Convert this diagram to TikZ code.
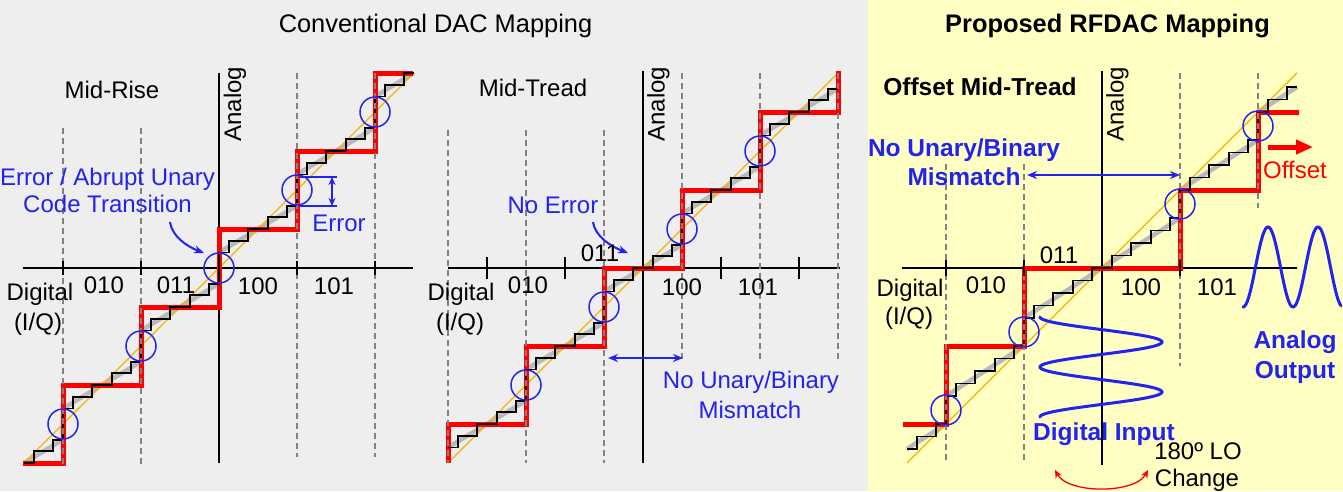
\documentclass[tikz,border=0pt]{standalone}
\usepackage{fontspec}
\setmainfont{Liberation Sans}
\usetikzlibrary{arrows.meta}
\definecolor{bggray}{RGB}{238,238,238}
\definecolor{bgyel}{RGB}{255,255,196}
\definecolor{myblue}{RGB}{35,35,240}
\definecolor{myred}{RGB}{255,0,0}
\definecolor{myorange}{RGB}{245,180,0}
\definecolor{mygray}{RGB}{185,185,185}
\definecolor{dashgray}{RGB}{130,130,130}
\begin{document}
\begin{tikzpicture}[x=1pt,y=-1pt,
  lab/.style={inner sep=0pt,text height=17.2pt,text depth=0pt,font=\fontsize{24}{28}\selectfont},
  blab/.style={lab,text=myblue},
  bblab/.style={lab,text=myblue,font=\fontsize{24.5}{28}\selectfont\bfseries},
  ttl/.style={lab,font=\fontsize{25.4}{30}\selectfont},
  redstep/.style={myred,line width=5pt},
  fine/.style={black,line width=1.8pt},
  shade/.style={mygray,line width=4.5pt},
  diag/.style={myorange,line width=1.2pt},
  vgrid/.style={dashgray,line width=1.5pt,dash pattern=on 6pt off 4pt},
  axisline/.style={black,line width=1.6pt},
  bcirc/.style={circle,draw=myblue,line width=1.5pt,minimum size=30pt,inner sep=0pt},
  barrow/.style={myblue,line width=2pt,-{Stealth[length=10pt,width=8pt]}},
  dbarrow/.style={myblue,line width=2pt,{Stealth[length=10pt,width=8pt]}-{Stealth[length=10pt,width=8pt]}}]
\useasboundingbox (0,0) rectangle (1343,491);
\fill[bggray] (0,0) rectangle (868,491);
\fill[bgyel] (868,0) rectangle (1343,491);

% titles
\node[ttl] (t1) at (435.5,24) {Conventional DAC Mapping};
\node[ttl,font=\fontsize{25.4}{30}\selectfont\bfseries] (t2) at (1107.5,24) {Proposed RFDAC Mapping};

% ================= Panel 1: Mid-Rise =================
\begin{scope}[shift={(219pt,-268pt)},x=78pt,y=78pt]
  \draw[shade] (-2.5,-2.5)--(-2,-2.2)--(-2,-1.8)--(-1,-1.2)--(-1,-0.8)--(0,-0.2)--(0,0.2)--(1,0.8)--(1,1.2)--(2,1.8)--(2,2.2)--(2.5,2.5);
  \draw[diag] (-2.5,-2.5)--(2.5,2.5);
  \draw[axisline] (0,-2.5)--(0,2.5);
  \draw[axisline] (-2.51,0)--(2.49,0);
  \draw[redstep] (-2.51,-2.5)--(-2,-2.5)--(-2,-1.5)--(-1,-1.5)--(-1,-0.5)--(0,-0.5)--(0,0.5)--(1,0.5)--(1,1.5)--(2,1.5)--(2,2.5)--(2.49,2.5);
  \draw[fine] (-2.5,-2.5) -- (-2.375,-2.5) -- (-2.375,-2.35) -- (-2.125,-2.35) -- (-2.125,-2.2) -- (-2,-2.2)
    \foreach \k in {-2,-1,0,1}{ -- (\k,\k+0.2) -- (\k+0.125,\k+0.2) -- (\k+0.125,\k+0.35) -- (\k+0.375,\k+0.35) -- (\k+0.375,\k+0.5) -- (\k+0.625,\k+0.5) -- (\k+0.625,\k+0.65) -- (\k+0.875,\k+0.65) -- (\k+0.875,\k+0.8) -- (\k+1,\k+0.8)}
    -- (2,2.2) -- (2.125,2.2) -- (2.125,2.35) -- (2.375,2.35) -- (2.375,2.5) -- (2.5,2.5);
  \foreach \x in {-2,-1}{\draw[vgrid] (\x,1.8)--(\x,-2.55);}
  \foreach \x in {1,2}{\draw[vgrid] (\x,2.5)--(\x,-2.42);}
  \foreach \x in {-2,-1,1,2}{\draw[axisline] (\x,-0.09)--(\x,0.09);}
  \node[bcirc] (p1c1) at (-2,-2) {};
  \node[bcirc] (p1c2) at (-1,-1) {};
  \node[bcirc] (p1c3) at (0,0) {};
  \node[bcirc] (p1c4) at (1,1) {};
  \node[bcirc] (p1c5) at (2,2) {};
\end{scope}
\node[lab] (mr) at (112,90) {Mid-Rise};
\node[lab,rotate=90] (an1) at (232.5,104) {Analog};
\node[blab] (e1) at (107.5,177) {Error / Abrupt Unary};
\node[blab] (e2) at (107.5,204) {Code Transition};
\coordinate (a1s) at (170,222);
\coordinate (a1e) at (204,253);
\draw[barrow] (a1s) .. controls (172,236) and (186,246) .. (a1e);
\coordinate (er1a) at (300,177); \coordinate (er1b) at (337,177);
\coordinate (er2a) at (300,206); \coordinate (er2b) at (337,206);
\coordinate (era) at (332,177); \coordinate (erb) at (332,206);
\draw[myblue,line width=2pt] (er1a)--(er1b) (er2a)--(er2b);
\draw[myblue,line width=2pt,{Stealth[length=8pt,width=7pt]}-{Stealth[length=8pt,width=7pt]}] (era)--(erb);
\node[blab] (e3) at (339,223) {Error};
\node[lab] (l1a) at (104,285) {010};
\node[lab] (l1b) at (176,285) {011};
\node[lab] (l1c) at (258,286) {100};
\node[lab] (l1d) at (334,286) {101};
\node[lab] (d1) at (40,292) {Digital};
\node[lab] (q1) at (38,322) {(I/Q)};

% ================= Panel 2: Mid-Tread =================
\begin{scope}[shift={(643pt,-268pt)},x=78pt,y=78pt]
  \draw[shade] (-2.5,-2.3)--(-1.5,-1.7)--(-1.5,-1.3)--(-0.5,-0.7)--(-0.5,-0.3)--(0.5,0.3)--(0.5,0.7)--(1.5,1.3)--(1.5,1.7)--(2.5,2.3);
  \draw[diag] (-2.5,-2.5)--(2.5,2.5);
  \draw[axisline] (0,-2.5)--(0,2.52);
  \draw[axisline] (-2.5,0)--(2.53,0);
  \draw[redstep] (-2.5,-2.5)--(-2.5,-2)--(-1.5,-2)--(-1.5,-1)--(-0.5,-1)--(-0.5,0)--(0.5,0)--(0.5,1)--(1.5,1)--(1.5,2)--(2.5,2)--(2.5,2.52);
  \draw[fine] (-2.5,-2.3) \foreach \q in {-2,...,2}{ -- (\q-0.5,\q-0.3) -- (\q-0.375,\q-0.3) -- (\q-0.375,\q-0.15) -- (\q-0.125,\q-0.15) -- (\q-0.125,\q) -- (\q+0.125,\q) -- (\q+0.125,\q+0.15) -- (\q+0.375,\q+0.15) -- (\q+0.375,\q+0.3) -- (\q+0.5,\q+0.3)};
  \foreach \x in {-2.5,-1.5,-0.5}{\draw[vgrid] (\x,1.77)--(\x,-2.5);}
  \foreach \x in {0.5,1.5,2.5}{\draw[vgrid] (\x,2.5)--(\x,-1.2);}
  \foreach \x in {-2,-1,1,2}{\draw[axisline] (\x,-0.14)--(\x,0.14);}
  \node[bcirc] (p2c1) at (-1.5,-1.5) {};
  \node[bcirc] (p2c2) at (-0.5,-0.5) {};
  \node[bcirc] (p2c3) at (0.5,0.5) {};
  \node[bcirc] (p2c4) at (1.5,1.5) {};
\end{scope}
\node[lab] (mt) at (533,88) {Mid-Tread};
\node[lab,rotate=90] (an2) at (656,104) {Analog};
\node[blab] (ne) at (553,205) {No Error};
\coordinate (a2s) at (593,222);
\coordinate (a2e) at (628,253);
\draw[barrow] (a2s) .. controls (595,236) and (610,246) .. (a2e);
\coordinate (m2a) at (608,358); \coordinate (m2b) at (683,358);
\draw[dbarrow] (m2a)--(m2b);
\node[blab] (nu2) at (751,380) {No Unary/Binary};
\node[blab] (mm2) at (750,410) {Mismatch};
\node[lab] (l2b) at (600,253) {011};
\node[lab] (l2a) at (528,285) {010};
\node[lab] (l2c) at (682,287) {100};
\node[lab] (l2d) at (758,287) {101};
\node[lab] (d2) at (461,292) {Digital};
\node[lab] (q2) at (460,322) {(I/Q)};

% ================= Panel 3: Offset Mid-Tread =================
\begin{scope}[shift={(1102pt,-268pt)},x=78pt,y=78pt]
  \draw[shade] (-2.5,-2.32)--(-2,-2)--(-2,-1.64)--(-1,-1)--(-1,-0.64)--(0,0)--(1,0.64)--(1,1)--(2,1.64)--(2,2)--(2.5,2.32);
  \draw[diag] (-2.5,-2.5)--(2.5,2.5);
  \draw[axisline] (0,-2.53)--(0,2.52);
  \draw[axisline] (-2.56,0)--(2.5,0);
  \draw[redstep] (-2.55,-2)--(-2,-2)--(-2,-1)--(-1,-1)--(-1,0)--(1,0)--(1,1)--(2,1)--(2,2)--(2.53,2);
  \draw[fine] (-2.5,-2.32) -- (-2.375,-2.32) -- (-2.375,-2.16) -- (-2.125,-2.16) -- (-2.125,-2) -- (-2,-2)
    \foreach \k in {1,0}{ -- (-\k-1,-\k-0.64) -- (-\k-0.875,-\k-0.64) -- (-\k-0.875,-\k-0.48) -- (-\k-0.625,-\k-0.48) -- (-\k-0.625,-\k-0.32) -- (-\k-0.375,-\k-0.32) -- (-\k-0.375,-\k-0.16) -- (-\k-0.125,-\k-0.16) -- (-\k-0.125,-\k) -- (-\k,-\k)}
    \foreach \k in {0,1}{ -- (\k,\k) -- (\k+0.125,\k) -- (\k+0.125,\k+0.16) -- (\k+0.375,\k+0.16) -- (\k+0.375,\k+0.32) -- (\k+0.625,\k+0.32) -- (\k+0.625,\k+0.48) -- (\k+0.875,\k+0.48) -- (\k+0.875,\k+0.64) -- (\k+1,\k+0.64)}
    -- (2,2) -- (2.125,2) -- (2.125,2.16) -- (2.375,2.16) -- (2.375,2.32) -- (2.5,2.32);
  \foreach \x in {-2,-1}{\draw[vgrid] (\x,1.33)--(\x,-2.5);}
  \draw[vgrid] (1,2.5)--(1,-1.25);
  \draw[vgrid] (2,2.5)--(2,0.77);
  \foreach \x in {-2,-1,1}{\draw[axisline] (\x,-0.1)--(\x,0.1);}
  \node[bcirc] (p3c1) at (-2,-1.82) {};
  \node[bcirc] (p3c2) at (-1,-0.82) {};
  \node[bcirc] (p3c3) at (1,0.82) {};
  \node[bcirc] (p3c4) at (2,1.82) {};
\end{scope}
\node[lab,font=\fontsize{24.5}{28}\selectfont\bfseries] (omt) at (980,87) {Offset Mid-Tread};
\node[lab,rotate=90] (an3) at (1115,104) {Analog};
\node[bblab] (nu3) at (964,148) {No Unary/Binary};
\node[bblab] (mm3) at (964,177) {Mismatch};
\coordinate (m3a) at (1027,175); \coordinate (m3b) at (1180,175);
\draw[dbarrow] (m3a)--(m3b);
\node[lab] (l3b) at (1059,255) {011};
\node[lab] (l3a) at (986,285) {010};
\node[lab] (l3c) at (1141,287) {100};
\node[lab] (l3d) at (1217,287) {101};
\node[lab] (d3) at (910,288) {Digital};
\node[lab] (q3) at (909,316) {(I/Q)};
\coordinate (of1) at (1268,147); \coordinate (of2) at (1313,147);
\draw[myred,line width=5pt,-{Triangle[length=17pt,width=14pt]}] (of1)--(of2);
\node[lab,text=myred] (off) at (1295,170) {Offset};
% waves (local scopes in units of 10pt)
\begin{scope}[shift={(1101pt,-317pt)},x=10pt,y=-10pt]
  \draw[myblue,line width=3pt,line cap=round] plot[domain=0:10,samples=161,variable=\t] ({-6.1*cos(72*\t)},\t);
\end{scope}
\begin{scope}[shift={(1243pt,-267pt)},x=10pt,y=-10pt]
  \draw[myblue,line width=3pt,line cap=round] plot[domain=0:9.8,samples=161,variable=\t] (\t,{4*cos(72*\t)});
\end{scope}
\node[bblab] (ao1) at (1295,340) {Analog};
\node[bblab] (ao2) at (1295,370) {Output};
\node[bblab] (di) at (1104,432) {Digital Input};
\node[lab] (lo1) at (1198,451) {180º LO};
\node[lab] (lo2) at (1197,478) {Change};
\coordinate (r1) at (1055,470); \coordinate (r2) at (1148,470);
\draw[myred,line width=1.3pt,{Stealth[length=8pt,width=7pt]}-{Stealth[length=8pt,width=7pt]}] (r1) .. controls (1068,494) and (1135,494) .. (r2);
\end{tikzpicture}
\end{document}
